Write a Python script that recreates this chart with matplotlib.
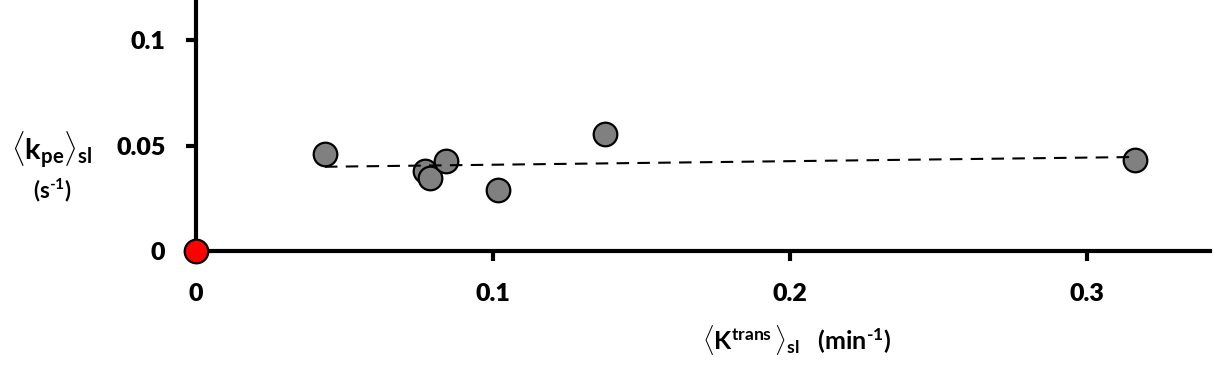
import numpy as np
import matplotlib
matplotlib.use("Agg")
import matplotlib.pyplot as plt

# data
ktrans = [0.0434, 0.0771, 0.0788, 0.0842, 0.1017, 0.1377, 0.3162]
kpe = [0.0460, 0.0379, 0.0346, 0.0427, 0.0289, 0.0555, 0.0431]
origin_x = [0.0]
origin_y = [0.0]
xticks = [0, 0.1, 0.2, 0.3]
xticklabels = ["0", "0.1", "0.2", "0.3"]
yticks = [0, 0.05, 0.1]
yticklabels = ["0", "0.05", "0.1"]

plt.rcParams['font.family'] = ['Lato', 'DejaVu Sans']
plt.rcParams['font.weight'] = 'bold'
plt.rcParams['mathtext.fontset'] = 'custom'
plt.rcParams['mathtext.rm'] = 'Lato:bold'
plt.rcParams['mathtext.bf'] = 'Lato:bold'
plt.rcParams['mathtext.it'] = 'Lato:bold'

fig = plt.figure(figsize=(12.13, 3.73), dpi=100)
ax = fig.add_axes([0.1616, 0.327, 0.836, 0.673])

ax.set_xlim(0, 0.3414)
ax.set_ylim(0, 0.119)

# trend line (least squares fit)
slope, intercept = np.polyfit(ktrans, kpe, 1)
xs = np.array([min(ktrans), max(ktrans)])
ax.plot(xs, slope * xs + intercept, color='black', lw=1.5, ls=(0, (6, 4)), zorder=4)

ax.plot(ktrans, kpe, 'o', ms=17, mfc='#808080', mec='black', mew=1.6, zorder=3, clip_on=False)
ax.plot(origin_x, origin_y, 'o', ms=17, mfc='#ff0000', mec='#000000', mew=1.6, zorder=5, clip_on=False)

for s in ['top', 'right']:
    ax.spines[s].set_visible(False)
for s in ['left', 'bottom']:
    ax.spines[s].set_linewidth(3)

ax.set_xticks(xticks)
ax.set_xticklabels(xticklabels)
ax.set_yticks(yticks)
ax.set_yticklabels(yticklabels)
ax.tick_params(axis='both', direction='out', width=3, length=7, labelsize=18)
ax.tick_params(axis='x', pad=16)
ax.tick_params(axis='y', pad=15)
for lab in ax.get_xticklabels() + ax.get_yticklabels():
    lab.set_fontweight('heavy')

fig.text(0.043, 0.598, r'$\langle$k$_{\mathrm{pe}}\rangle_{\mathrm{sl}}$', fontsize=21,
         ha='center', va='center')
fig.text(0.043, 0.49, r'(s$^{\mathrm{‐1}}$)', fontsize=16, ha='center', va='center')
fig.text(0.657, 0.088, r'$\langle$K$^{\mathrm{trans}}\,\rangle_{\mathrm{sl}}$   (min$^{\mathrm{‐1}}$)', fontsize=18,
         ha='center', va='center')

fig.savefig('out.png', dpi=100)
